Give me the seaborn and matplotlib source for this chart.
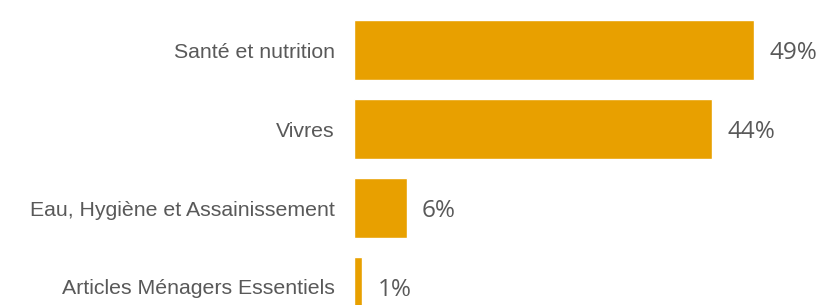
import matplotlib
matplotlib.use("Agg")
import matplotlib.pyplot as plt
import seaborn as sns
import pandas as pd

categories = ["Santé et nutrition", "Vivres", "Eau, Hygiène et Assainissement",
              "Articles Ménagers Essentiels"]
values = [49, 43.8, 6.5, 1.1]
value_labels = ["49%", "44%", "6%", "1%"]

sns.set_theme(style="white")
plt.rcParams['font.family'] = ['Liberation Sans', 'DejaVu Sans']

df = pd.DataFrame({"cat": categories, "val": values})

fig = plt.figure(figsize=(8.25, 3.05), dpi=100)
ax = fig.add_axes([353.5/825, 0, 471.5/825, 1])
sns.barplot(data=df, x="val", y="cat", orient="h", color="#E8A000",
            saturation=1, width=0.76, ax=ax)
ax.set_xlim(0, 471.5/8.18)
ax.set_ylim((305-50)/79, -50/79)
for c in ax.containers:
    texts = ax.bar_label(c, labels=value_labels, padding=11, fontsize=17.5,
                         color="#595959", family=['Open Sans', 'DejaVu Sans'])
    for t in texts:
        t.set_va("center")
        t.xyann = (11, -2.3)
ax.set_xlabel("")
ax.set_ylabel("")
ax.set_xticks([])
ax.tick_params(axis="y", length=0, pad=13.5, labelsize=15.3, labelcolor="#595959")
for s in ax.spines.values():
    s.set_visible(False)
fig.savefig("out.png", dpi=100)
